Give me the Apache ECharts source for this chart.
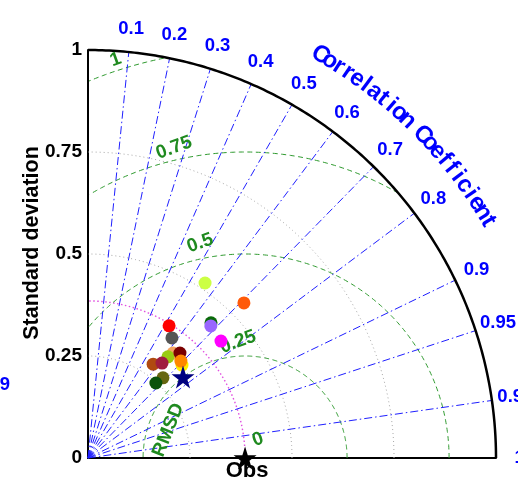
<!DOCTYPE html>
<html>
<head>
<meta charset="utf-8">
<script src="https://cdn.jsdelivr.net/npm/echarts@6/dist/echarts.min.js"></script>
<style>
html, body { margin: 0; padding: 0; background: #fff; }
#taylorChart { width: 518px; height: 489px; }
</style>
</head>
<body>
<div id="taylorChart"></div>
<script>
// observation (reference) standard deviation
const obsStd = 0.385;

// correlation grid lines + labels
const corrTicks = [0.1, 0.2, 0.3, 0.4, 0.5, 0.6, 0.7, 0.8, 0.9, 0.95, 0.99];
const corrLabelValues = [0.1, 0.2, 0.3, 0.4, 0.5, 0.6, 0.7, 0.8, 0.9, 0.95, 0.99, 1];
const corrLabels = ['0.1', '0.2', '0.3', '0.4', '0.5', '0.6', '0.7', '0.8', '0.9', '0.95', '0.99', '1'];

// standard deviation arcs and RMSD arcs
const stdArcs = [0.25, 0.5, 0.75];
const rmsArcs = [0.25, 0.5, 0.75, 1];
const rmsLabelValues = [0, 0.25, 0.5, 0.75, 1];
const rmsLabels = ['0', '0.25', '0.5', '0.75', '1'];

// models (std, corr)
const modelStd = [0.516, 0.539, 0.380, 0.448, 0.442, 0.359, 0.434, 0.331, 0.316, 0.280, 0.295, 0.342, 0.324, 0.329, 0.269, 0.248];
const modelCorr = [0.556, 0.709, 0.523, 0.673, 0.681, 0.573, 0.751, 0.630, 0.620, 0.570, 0.615, 0.659, 0.711, 0.692, 0.683, 0.671];
const modelColors = ['#ccff44', '#ff5a0a', '#ff0000', '#0a6a0a', '#9966ff', '#555555', '#ff00ff', '#f4a460',
    '#99cc11', '#b04a10', '#a01e40', '#7a0000', '#ffee00', '#ff8800', '#666611', '#0b520b'];

// ensemble mean (star)
const meanStd = 0.306;
const meanCorr = 0.761;

const FONT = 'Arial, "Liberation Sans", Helvetica, sans-serif';
const STAR = 'path://M50,0 L61.23,34.55 L97.55,34.55 L68.17,55.9 L79.39,90.45 L50,69.1 L20.61,90.45 L31.83,55.9 L2.45,34.55 L38.77,34.55 Z';

function toXY(s, c) {
    return [s * c, s * Math.sqrt(Math.max(0, 1 - c * c))];
}

function txt(x, y, text, color, size, rot, align) {
    return {
        type: 'text', x: x, y: y, rotation: rot || 0, silent: true,
        style: {
            text: text, fill: color, fontSize: size, fontWeight: 'bold', fontFamily: FONT,
            align: align || 'center', verticalAlign: 'middle'
        }
    };
}

function renderGrid(params, api) {
    const o = api.coord([0, 0]);
    const unit = api.size([1, 1])[0];
    const px = (x, y) => [o[0] + x * unit, o[1] - y * unit];
    const children = [];
    const deg = Math.PI / 180;

    const arc = (cx, r, keep) => {
        const pts = [];
        for (let i = 0; i <= 360; i++) {
            const a = Math.PI * i / 360;
            const x = cx + r * Math.cos(a), y = r * Math.sin(a);
            if (keep(x, y)) pts.push(px(x, y));
        }
        return pts;
    };
    const line = (pts, stroke, width, dash) => ({
        type: 'polyline', silent: true,
        shape: { points: pts },
        style: { stroke: stroke, lineWidth: width, lineDash: dash || null, fill: 'none' }
    });
    const inQuarter = (x, y) => x >= -1e-6 && x * x + y * y <= 1 + 1e-6;

    // std dev arcs (grey dotted)
    stdArcs.forEach(r => children.push(line(arc(0, r, x => x >= -1e-6), '#a8a8a8', 1, [1, 3])));
    // obs std arc (magenta dotted)
    children.push(line(arc(0, obsStd, x => x >= -1e-6), '#e050e0', 1.4, [1.5, 2.5]));
    // RMSD arcs (green dashed)
    rmsArcs.forEach(r => children.push(line(arc(obsStd, r, inQuarter), '#2e9a2e', 1, [5, 3.5])));
    // correlation lines (blue dash-dot)
    corrTicks.forEach(c => {
        const e = toXY(1, c);
        children.push(line([px(0, 0), px(e[0], e[1])], '#1f1fff', 1, [8, 3, 1.5, 3]));
    });
    // outer arc
    children.push(line(arc(0, 1, x => x >= -1e-6), '#000', 2.5));

    // correlation labels
    corrLabelValues.forEach((c, i) => {
        const p = toXY(1.058, c);
        const q = px(p[0], p[1]);
        children.push(txt(q[0], q[1], corrLabels[i], '#0000ff', 18.5));
    });

    // curved title
    const title = 'Correlation Coefficient';
    const a0 = 60 * deg, a1 = 30.6 * deg;
    for (let i = 0; i < title.length; i++) {
        if (title[i] === ' ') continue;
        const a = a0 - (a0 - a1) * i / (title.length - 1);
        const q = px(1.14 * Math.cos(a), 1.14 * Math.sin(a));
        children.push(txt(q[0], q[1], title[i], '#0000ff', 24, a - Math.PI / 2));
    }

    // RMSD labels
    const rmsDir = [[0.055, 55], [0.285, 93.5], [0.538, 101.8], [0.78, 102.9], [1.026, 108]];
    rmsLabelValues.forEach((v, i) => {
        const d = rmsDir[i][0], a = rmsDir[i][1] * deg;
        const q = px(obsStd + d * Math.cos(a), d * Math.sin(a));
        children.push(txt(q[0], q[1], rmsLabels[i], '#1f8a1f', 19, 20 * deg));
    });
    const rq = px(obsStd + 0.2 * Math.cos(160 * deg), 0.2 * Math.sin(160 * deg));
    children.push(txt(rq[0], rq[1], 'RMSD', '#1f8a1f', 19, 68 * deg));

    // Obs label
    const ob = px(obsStd, 0);
    children.push(txt(ob[0] + 2, ob[1] + 13, 'Obs', '#000', 22));

    // y axis title
    const yt = px(0, 0.527);
    children.push(txt(yt[0] - 56, yt[1], 'Standard deviation', '#000', 21.5, Math.PI / 2));

    // stray clipped label at the left edge
    const st = px(0, 0.18);
    children.push(txt(st[0] - 78, st[1], '0.99', '#0000ff', 18.5, 0, 'right'));

    return { type: 'group', children: children };
}

const chart = echarts.init(document.getElementById('taylorChart'));

const modelData = modelStd.map((s, i) => ({
    value: toXY(s, modelCorr[i]),
    itemStyle: { color: modelColors[i], opacity: 1 }
}));

chart.setOption({
    backgroundColor: '#ffffff',
    animation: false,
    grid: { left: 88, top: 50, width: 408, height: 408 },
    xAxis: {
        type: 'value', min: 0, max: 1,
        axisLine: { show: true, onZero: false, lineStyle: { color: '#000', width: 2 } },
        axisTick: { show: false },
        axisLabel: { show: false },
        splitLine: { show: false }
    },
    yAxis: {
        type: 'value', min: 0, max: 1, interval: 0.25,
        axisLine: { show: true, onZero: false, lineStyle: { color: '#000', width: 2 } },
        axisTick: { show: false },
        axisLabel: { color: '#000', fontSize: 19, fontWeight: 'bold', fontFamily: FONT, margin: 6 },
        splitLine: { show: false }
    },
    series: [
        {
            type: 'custom',
            coordinateSystem: 'cartesian2d',
            renderItem: renderGrid,
            data: [[0, 0]],
            silent: true,
            z: 1
        },
        {
            type: 'scatter',
            data: modelData,
            symbol: 'circle',
            symbolSize: 13,
            clip: false,
            z: 3
        },
        {
            type: 'scatter',
            data: [toXY(meanStd, meanCorr)],
            symbol: STAR,
            symbolSize: 23,
            itemStyle: { color: '#000080', opacity: 1 },
            clip: false,
            z: 4
        },
        {
            type: 'scatter',
            data: [[obsStd, 0]],
            symbol: STAR,
            symbolSize: 23,
            itemStyle: { color: '#000000', opacity: 1 },
            clip: false,
            z: 4
        }
    ]
});
</script>
</body>
</html>
